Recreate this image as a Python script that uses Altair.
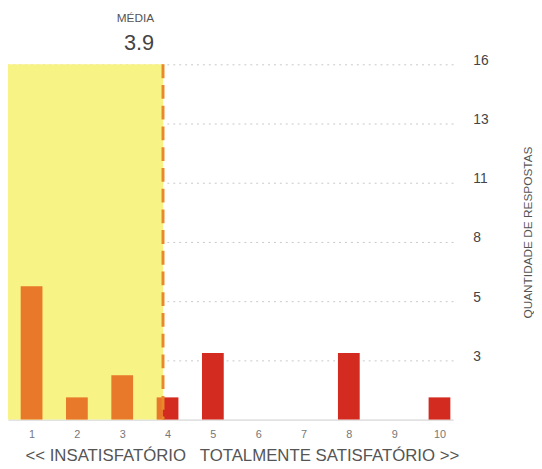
import altair as alt
import pandas as pd

# ---- data ----
scores = [1, 2, 3, 4, 5, 6, 7, 8, 9, 10]
counts = [6, 1, 2, 1, 3, 0, 0, 3, 0, 1]
mean_value = 3.9
mean_text = "3.9"
mean_label = "MÉDIA"
y_tick_values = [2.667, 5.333, 8, 10.667, 13.333, 16]
y_max = 16
x_domain = [0.48, 10.3]
x_title = "<< INSATISFATÓRIO\u00a0\u00a0 TOTALMENTE SATISFATÓRIO >>"
y_title = "QUANTIDADE DE RESPOSTAS"

RED = "#D42B20"
ORANGE = "#E8782A"
YELLOW = "#F8F385"
DASH = "#E8892A"
HALF = 0.24  # half bar width in score units
FONT = "Liberation Sans"

bars_df = pd.DataFrame({"score": scores, "count": counts})
mean_df = pd.DataFrame({"lo": [x_domain[0]], "mean": [mean_value], "top": [y_max],
                        "zero": [0], "label": [mean_label], "value": [mean_text]})

xs = alt.Scale(domain=x_domain, nice=False, zero=False)
ys = alt.Scale(domain=[0, y_max], nice=False)

x_axis = alt.Axis(values=scores, format="d", title=x_title, grid=False,
                  ticks=False, domainColor="#cccccc", labelFontSize=11,
                  labelColor="#777777", labelPadding=9, titleFontSize=17,
                  titleColor="#555555", titleFontWeight="normal",
                  titlePadding=8, titleX=237, titleAlign="center",
                  labelFont=FONT, titleFont=FONT)
y_axis = alt.Axis(orient="right", values=y_tick_values, format=".0f",
                  title=y_title, domain=False, ticks=False, grid=True,
                  gridDash=[2, 4], gridColor="#c8c8c8", labelFontSize=14,
                  labelColor="#444444", labelPadding=20, labelOffset=-4,
                  titleAngle=270, titleX=75, titleY=170,
                  titleAlign="center", titleBaseline="middle",
                  titleFontSize=12, titleColor="#555555",
                  titleFontWeight="normal", labelFont=FONT, titleFont=FONT)


def X(field):
    return alt.X(field, scale=xs, axis=x_axis, title=x_title)


def Y(field):
    return alt.Y(field, scale=ys, axis=y_axis, title=y_title)


base_bars = alt.Chart(bars_df).transform_filter("datum.count > 0").transform_calculate(
    lo=f"datum.score - {HALF}",
    hi=f"datum.score + {HALF}",
    split=f"clamp({mean_value}, datum.score - {HALF}, datum.score + {HALF})",
    zero="0",
)

yellow = alt.Chart(mean_df).mark_rect(color=YELLOW).encode(
    x=X("lo:Q"), x2="mean:Q", y=Y("top:Q"), y2="zero:Q",
)

orange_bars = base_bars.mark_rect(color=ORANGE).encode(
    x=X("lo:Q"), x2="split:Q", y=Y("count:Q"), y2="zero:Q",
)

red_bars = base_bars.mark_rect(color=RED).encode(
    x=X("split:Q"), x2="hi:Q", y=Y("count:Q"), y2="zero:Q",
)

rule = alt.Chart(mean_df).mark_rule(color=DASH, strokeWidth=3, strokeDash=[14, 7]).encode(
    x=X("mean:Q"), y=Y("top:Q"), y2="zero:Q",
)

label1 = alt.Chart(mean_df).mark_text(align="right", baseline="middle", dx=-9,
                                      fontSize=12, color="#555555", font=FONT).encode(
    x=X("mean:Q"), y=alt.value(-47), text="label:N",
)
label2 = alt.Chart(mean_df).mark_text(align="right", baseline="middle", dx=-9,
                                      fontSize=22, color="#444444", font=FONT).encode(
    x=X("mean:Q"), y=alt.value(-22), text="value:N",
)

chart = alt.layer(yellow, orange_bars, red_bars, rule, label1, label2).properties(
    width=451, height=360,
    autosize=alt.AutoSizeParams(type="none"),
    padding={"left": 0, "top": 54, "right": 82, "bottom": 46},
).configure_view(strokeWidth=0, stroke=None)

chart.save("out.html", embed_options={"renderer": "svg", "actions": False})
